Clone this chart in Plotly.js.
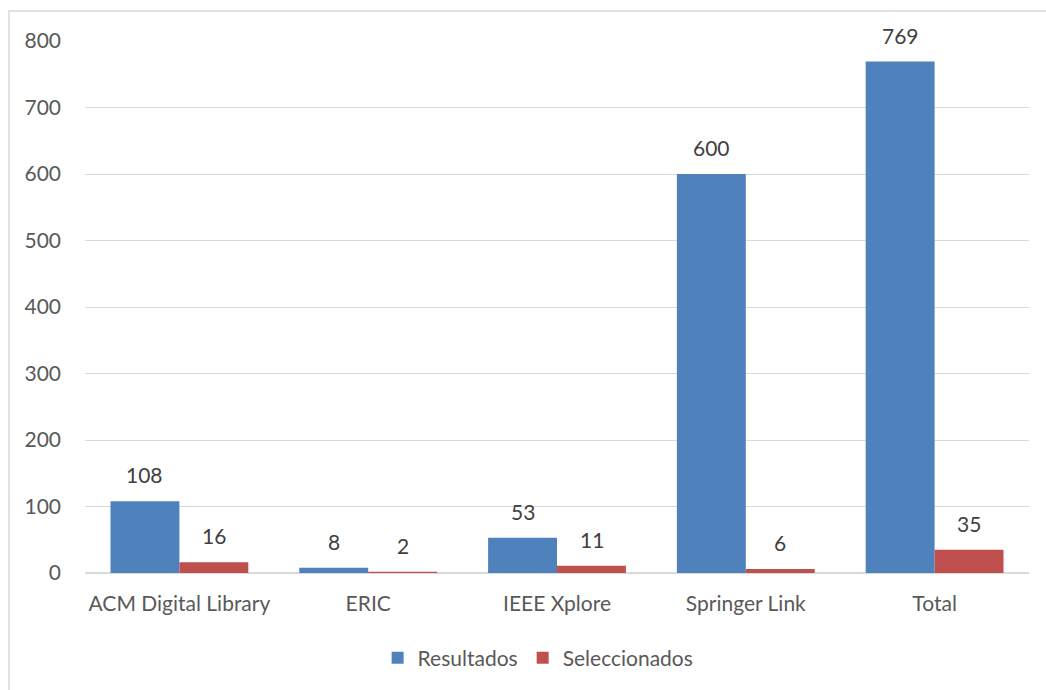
<!DOCTYPE html>
<html>
<head>
<meta charset="utf-8">
<script src="https://cdn.plot.ly/plotly-3.0.1.min.js"></script>
<style>
  html, body { margin: 0; padding: 0; background: #ffffff; }
  #chart { width: 1046px; height: 690px; }
</style>
</head>
<body>
<div id="chart"></div>
<script>
const categories = ["ACM Digital Library", "ERIC", "IEEE Xplore", "Springer Link", "Total"];
const resultados = [108, 8, 53, 600, 769];
const seleccionados = [16, 2, 11, 6, 35];
const seriesNames = ["Resultados", "Seleccionados"];
const seriesColors = ["#4F81BD", "#C0504D"];
const yTicks = [0, 100, 200, 300, 400, 500, 600, 700, 800];

const FONT = "Lato, 'Open Sans', 'Liberation Sans', sans-serif";
const FS = 21;

const traces = [resultados, seleccionados].map((vals, i) => ({
  type: "bar",
  name: seriesNames[i],
  x: categories,
  y: vals,
  marker: { color: seriesColors[i] },
  hoverinfo: "x+y+name"
}));

// Data labels placed above each bar (offset by half the bar slot)
const annotations = [];
const barShift = 34.5;
[resultados, seleccionados].forEach((vals, i) => {
  vals.forEach((v, j) => {
    annotations.push({
      x: categories[j], y: v, xref: "x", yref: "y",
      text: String(v), showarrow: false,
      xshift: i === 0 ? -barShift : barShift,
      yshift: 12, yanchor: "bottom",
      font: { family: FONT, size: FS, color: "#404040" }
    });
  });
});

const layout = {
  width: 1046, height: 690,
  margin: { l: 85, r: 17, t: 41, b: 115.5 },
  paper_bgcolor: "#ffffff", plot_bgcolor: "#ffffff",
  barmode: "group", bargap: 0.27, bargroupgap: 0,
  font: { family: FONT, size: FS, color: "#595959" },
  xaxis: {
    type: "category", showgrid: false, zeroline: false,
    showline: false, ticks: "", tickfont: { size: FS, color: "#595959" },
    ticklabelstandoff: 16
  },
  yaxis: {
    range: [0, 800], tickvals: yTicks, showgrid: true, gridcolor: "#d9d9d9",
    gridwidth: 1, zeroline: true, zerolinecolor: "#d9d9d9", zerolinewidth: 1.5,
    ticks: "", tickfont: { size: FS, color: "#595959" }, ticklabelstandoff: 23,
    fixedrange: true
  },
  legend: {
    orientation: "h", x: 0.48, xanchor: "center", y: -0.158, yanchor: "middle",
    font: { size: FS, color: "#595959" }, itemwidth: 30, traceorder: "normal"
  },
  annotations: annotations,
  shapes: [{
    type: "rect", xref: "paper", yref: "paper",
    x0: (9 - 85) / 944, x1: 1.1, y0: -0.3, y1: (574.5 - 11) / 533.5,
    line: { color: "#d9d9d9", width: 1.5 }, fillcolor: "rgba(0,0,0,0)", layer: "below"
  }],
  showlegend: true
};

Plotly.newPlot("chart", traces, layout, { displayModeBar: false, staticPlot: true });
</script>
</body>
</html>
